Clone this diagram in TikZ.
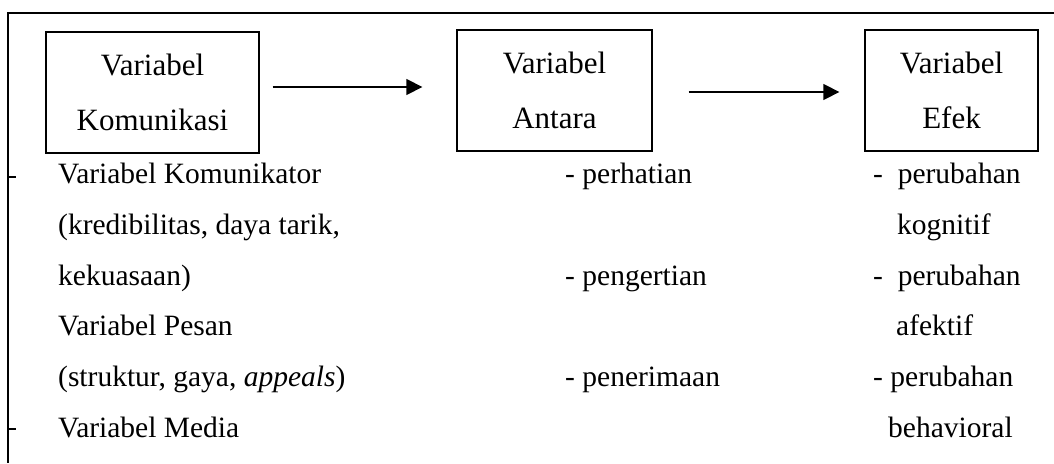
\documentclass[tikz,border=0pt]{standalone}
\usepackage{fontspec}
\setmainfont{Liberation Serif}
\usetikzlibrary{arrows.meta}
\begin{document}
\begin{tikzpicture}[x=1pt,y=-1pt,
  frame/.style={line width=1.4pt},
  box/.style={draw,line width=1.3pt,align=center,inner sep=0pt,font=\fontsize{31}{55}\selectfont},
  txt/.style={anchor=base west,inner sep=0pt,font=\fontsize{29.5}{35}\selectfont},
  arr/.style={line width=1.3pt,-{Triangle[length=16pt,width=16pt]}}]
\useasboundingbox (0,0) rectangle (1054,463);
% outer frame
\draw[frame] (1054,13) -- (8,13) -- (8,463);
\draw[frame] (8,177) -- (16,177);
\draw[frame] (8,429) -- (16,429);
% boxes
\node[box,minimum width=213pt,minimum height=121pt] (b1) at (152.5,92.5) {Variabel\\Komunikasi};
\node[box,minimum width=195pt,minimum height=121pt] (b2) at (554.5,90.5) {Variabel\\Antara};
\node[box,minimum width=173pt,minimum height=121pt] (b3) at (951.5,90.5) {Variabel\\Efek};
% arrows
\coordinate (a1s) at ([xshift=13pt]b1.east |- 0,87);
\coordinate (a1e) at ([xshift=-34pt]b2.west |- 0,87);
\coordinate (a2s) at ([xshift=36pt]b2.east |- 0,92);
\coordinate (a2e) at ([xshift=-25pt]b3.west |- 0,92);
\draw[arr] (a1s) -- (a1e);
\draw[arr] (a2s) -- (a2e);
% column 1
\node[txt] (c1a) at (58,183) {Variabel Komunikator};
\node[txt] (c1b) at (58,234) {(kredibilitas, daya tarik,};
\node[txt] (c1c) at (58,285) {kekuasaan)};
\node[txt] (c1d) at (58,335) {Variabel Pesan};
\node[txt] (c1e) at (58,386) {(struktur, gaya, \textit{appeals})};
\node[txt] (c1f) at (58,437) {Variabel Media};
% column 2
\node[txt] (c2a) at (565,183) {- perhatian};
\node[txt] (c2b) at (565,285) {- pengertian};
\node[txt] (c2c) at (565,386) {- penerimaan};
% column 3
\node[txt] (c3a) at (873,183) {-\ \ perubahan};
\node[txt] (c3b) at (897,234) {kognitif};
\node[txt] (c3c) at (873,285) {-\ \ perubahan};
\node[txt] (c3d) at (896,335) {afektif};
\node[txt] (c3e) at (873,386) {- perubahan};
\node[txt] (c3f) at (888,437) {behavioral};
\end{tikzpicture}
\end{document}
